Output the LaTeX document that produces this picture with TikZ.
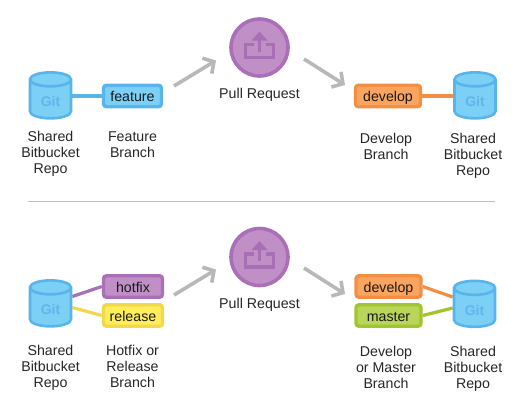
\documentclass[tikz,border=0pt]{standalone}
\usepackage{fontspec}
\setmainfont{Liberation Sans}
\usetikzlibrary{shapes.geometric,arrows.meta,backgrounds,calc}
\definecolor{cylfill}{HTML}{7CCFF5}
\definecolor{cylline}{HTML}{5AB4EC}
\definecolor{gittext}{HTML}{5DB6EE}
\definecolor{orfill}{HTML}{F9A55F}
\definecolor{orline}{HTML}{F28F45}
\definecolor{grfill}{HTML}{B9D65A}
\definecolor{grline}{HTML}{A0C62E}
\definecolor{yefill}{HTML}{FFEE5A}
\definecolor{yeline}{HTML}{F3D84E}
\definecolor{pufill}{HTML}{C08FC6}
\definecolor{puline}{HTML}{AA70B7}
\definecolor{icondark}{HTML}{A96FB6}
\definecolor{blfill}{HTML}{7CCFF5}
\definecolor{flowgray}{HTML}{B8B8B8}
\newcommand{\gitlabel}{\raisebox{-7pt}[0pt][0pt]{Git}}
\tikzset{
  x=1pt,y=-1pt,
  repo/.style={shape=cylinder,shape border rotate=90,aspect=0.72,draw=cylline,line width=2.6pt,
    cylinder uses custom fill,cylinder body fill=cylfill,cylinder end fill=cylfill,
    minimum width=41pt,minimum height=46pt,inner sep=0pt,text=gittext,
    font=\fontsize{14}{14}\selectfont\bfseries},
  branch/.style={rounded corners=3pt,line width=3.4pt,minimum width=#1,minimum height=21.5pt,inner sep=0pt,
    font=\fontsize{14.2}{16}\selectfont,text=black!90,text height=11pt,text depth=0pt},
  bluebox/.style={branch=58pt,draw=cylline,fill=blfill},
  orangebox/.style={branch=65pt,draw=orline,fill=orfill},
  greenbox/.style={branch=65pt,draw=grline,fill=grfill},
  purplebox/.style={branch=59pt,draw=puline,fill=pufill},
  yellowbox/.style={branch=59pt,draw=yeline,fill=yefill},
  caption/.style={align=center,font=\fontsize{14.2}{16}\selectfont,text=black!85,inner sep=0pt,anchor=north},
  link/.style={line width=3.2pt},
  flow/.style={draw=flowgray,line width=3.6pt,-{Straight Barb[length=8pt,width=18pt,line width=3.6pt]}},
  prcircle/.style={circle,draw=puline,fill=pufill,line width=3.6pt,minimum size=57pt,inner sep=0pt},
  icon/.style={draw=icondark,line width=3.4pt},
  icontip/.style={fill=icondark,draw=none},
  rule/.style={draw=black!25,line width=1pt}
}
\newcommand{\prtray}[1]{%
  \draw[icon] ($(#1)+(-6,-3)$) -- ($(#1)+(-14,-3)$) -- ($(#1)+(-14,10)$) -- ($(#1)+(14,10)$) -- ($(#1)+(14,-3)$) -- ($(#1)+(6,-3)$);
  \draw[icon] ($(#1)+(0,-8)$) -- ($(#1)+(0,4)$);
  \fill[icontip] ($(#1)+(0,-16)$) -- ($(#1)+(8,-7)$) -- ($(#1)+(-8,-7)$) -- cycle;
}
\begin{document}
\begin{tikzpicture}
\useasboundingbox (0,0) rectangle (526,410);
% top row
\node[repo] (repoA) at (50.5,99.5) {\gitlabel};
\node[bluebox] (feature) at (132.5,96) {feature};
\node[prcircle] (prA) at (259.5,47.5) {};
\prtray{prA}
\node[orangebox] (developA) at (388,96) {develop};
\node[repo] (repoB) at (475,99.5) {\gitlabel};
\node[caption] (capA) at (50.5,131.5) {Shared\\Bitbucket\\Repo};
\node[caption] (capB) at (132.5,131.5) {Feature\\Branch};
\node[caption] (capC) at (259.5,88.5) {Pull Request};
\node[caption] (capD) at (386,133) {Develop\\Branch};
\node[caption] (capE) at (473,133) {Shared\\Bitbucket\\Repo};
\coordinate (a1s) at (174,86); \coordinate (a1e) at (216,60.5);
\coordinate (a2s) at (304,59); \coordinate (a2e) at (345,85);
\draw[flow] (a1s) -- (a1e);
\draw[flow] (a2s) -- (a2e);
% rule
\coordinate (ruleL) at (28,201); \coordinate (ruleR) at (495,201);
\draw[rule] (ruleL) -- (ruleR);
% bottom row
\node[repo] (repoC) at (50.5,307.5) {\gitlabel};
\node[purplebox] (hotfix) at (133,286.5) {hotfix};
\node[yellowbox] (release) at (133,315.5) {release};
\node[prcircle] (prB) at (259.5,257) {};
\prtray{prB}
\node[orangebox] (developB) at (388.5,286.5) {develop};
\node[greenbox] (master) at (388.5,315.5) {master};
\node[repo] (repoD) at (474.5,308) {\gitlabel};
\node[caption] (capF) at (50.5,344.5) {Shared\\Bitbucket\\Repo};
\node[caption] (capG) at (132.5,344.5) {Hotfix or\\Release\\Branch};
\node[caption] (capH) at (259.5,298.5) {Pull Request};
\node[caption] (capI) at (386,345.5) {Develop\\or Master\\Branch};
\node[caption] (capJ) at (473,345.5) {Shared\\Bitbucket\\Repo};
\coordinate (a3s) at (174,295); \coordinate (a3e) at (216,269.5);
\coordinate (a4s) at (304,268); \coordinate (a4e) at (345,294);
\draw[flow] (a3s) -- (a3e);
\draw[flow] (a4s) -- (a4e);
% connectors behind the shapes
\begin{scope}[on background layer]
\draw[link,draw=cylline] (repoA.center |- feature.center) -- (feature.center);
\draw[link,draw=orline] (developA.center) -- (repoB.center |- developA.center);
\draw[link,draw=puline] ($(repoC.east)+(0,-11)$) -- (hotfix.west);
\draw[link,draw=yeline] ($(repoC.east)+(0,0)$) -- (release.west);
\draw[link,draw=orline] (developB.east) -- ($(repoD.west)+(0,-11)$);
\draw[link,draw=grline] (master.east) -- ($(repoD.west)+(0,0)$);
\end{scope}
\end{tikzpicture}
\end{document}
